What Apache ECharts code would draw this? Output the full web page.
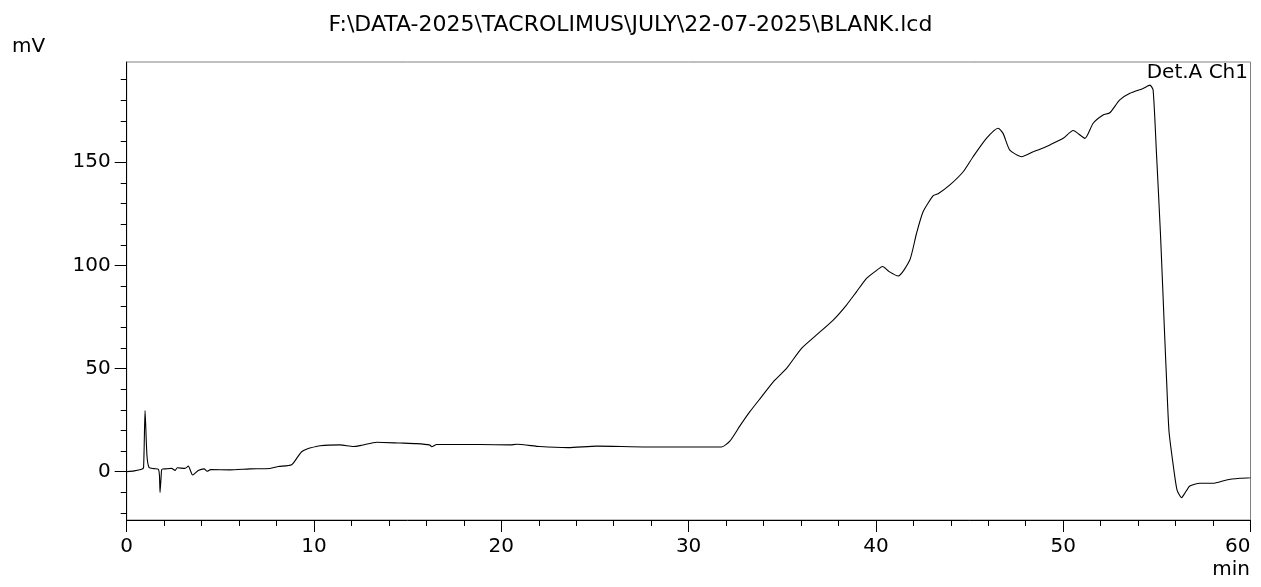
<!DOCTYPE html>
<html>
<head>
<meta charset="utf-8">
<script src="https://cdn.jsdelivr.net/npm/echarts@6/dist/echarts.min.js"></script>
<style>
html,body{margin:0;padding:0;background:#fff;}
#chart{width:1261px;height:587px;}
</style>
</head>
<body>
<div id="chart"></div>
<script>
var titleText = 'F:\\DATA-2025\\TACROLIMUS\\JULY\\22-07-2025\\BLANK.lcd';
var channelLabel = 'Det.A Ch1';
var yUnit = 'mV';
var xUnit = 'min';
var yMajorTicks = [0, 50, 100, 150];
var yMinorTicks = [-20, -10, 0, 10, 20, 30, 40, 50, 60, 70, 80, 90, 100, 110, 120, 130, 140, 150, 160, 170, 180, 190];

var timeMin = [0.00,0.40,0.80,0.90,0.98,1.08,1.19,1.45,1.69,1.75,1.78,1.84,1.88,2.10,2.40,2.58,2.70,3.11,3.29,3.52,3.82,4.13,4.30,4.48,5.51,6.58,7.65,8.10,8.81,9.16,9.34,9.60,9.78,10.32,11.39,12.10,12.54,13.35,14.59,15.48,16.19,16.28,16.55,18.86,20.46,20.82,22.06,23.57,25.09,27.76,29.54,31.76,32.20,32.74,33.27,33.90,34.52,35.23,36.03,36.83,37.72,38.43,38.97,39.50,39.95,40.36,40.71,41.19,41.81,42.17,42.52,43.06,43.32,43.95,44.66,45.19,45.90,46.53,46.79,47.15,47.78,48.40,48.76,49.29,50.00,50.53,51.16,51.60,52.13,52.49,53.02,53.56,54.27,54.63,54.80,54.98,55.20,55.42,55.52,55.65,55.91,56.08,56.32,56.49,56.76,57.29,58.00,58.72,59.43,60.00];
var signalMv = [0.0,0.4,1.2,2.0,29.6,8.0,2.1,1.5,1.2,-2.0,-10.0,-2.0,1.2,1.4,1.6,0.6,1.9,1.6,2.7,-1.6,0.6,1.4,0.2,1.0,0.9,1.4,1.6,2.5,3.4,7.6,9.7,10.9,11.5,12.6,13.0,12.2,12.8,14.3,13.9,13.6,12.9,12.1,13.2,13.2,13.0,13.3,12.2,11.7,12.4,12.0,12.0,12.0,14.8,22.2,29.1,36.4,43.6,50.1,59.8,66.3,73.5,80.8,87.3,93.7,97.0,99.5,97.0,94.9,102.6,115.6,126.0,133.8,134.7,139.0,145.4,152.7,161.6,166.5,164.0,155.9,152.7,155.1,156.3,158.4,161.6,165.4,161.6,168.9,172.9,174.0,180.2,183.4,185.8,187.4,185.0,154.3,113.9,65.4,44.4,19.5,0.8,-8.9,-12.6,-10.5,-6.9,-5.6,-5.6,-4.0,-3.2,-2.9];

var seriesData = timeMin.map(function (t, i) { return [t, signalMv[i]]; });

var FONT = '"DejaVu Sans", "Liberation Sans", Arial, sans-serif';
var chart = echarts.init(document.getElementById('chart'), null, {renderer: 'canvas'});
var yMin = -23.4, yMax = 198.6;

var option = {
  backgroundColor: '#ffffff',
  animation: false,
  title: {
    text: titleText,
    left: 'center',
    top: 9,
    textStyle: {fontFamily: FONT, fontSize: 22, fontWeight: 'normal', color: '#000'}
  },
  grid: {
    left: 126.7, right: 10.5, top: 62, bottom: 67,
    show: true, borderColor: '#808080', borderWidth: 1, backgroundColor: 'transparent'
  },
  xAxis: {
    type: 'value', min: 0, max: 60, interval: 10,
    axisLine: {show: true, onZero: false, lineStyle: {color: '#000', width: 1}},
    axisTick: {show: true, inside: false, length: 12, lineStyle: {color: '#000'}},
    minorTick: {show: true, splitNumber: 5, length: 6, lineStyle: {color: '#000'}},
    axisLabel: {fontFamily: FONT, fontSize: 20, color: '#000', margin: 17, alignMaxLabel: 'right'},
    splitLine: {show: false}
  },
  yAxis: [
    {
      type: 'value', min: yMin, max: yMax, position: 'left',
      axisLine: {show: true, onZero: false, lineStyle: {color: '#000', width: 1}},
      axisTick: {show: true, inside: false, length: 12, customValues: yMajorTicks, lineStyle: {color: '#000'}},
      axisLabel: {fontFamily: FONT, fontSize: 20, color: '#000', margin: 16, customValues: yMajorTicks},
      splitLine: {show: false}
    },
    {
      type: 'value', min: yMin, max: yMax, position: 'left', offset: 0,
      axisLine: {show: false},
      axisTick: {show: true, inside: false, length: 6, customValues: yMinorTicks, lineStyle: {color: '#000'}},
      axisLabel: {show: false},
      splitLine: {show: false}
    }
  ],
  series: [{
    type: 'line',
    xAxisIndex: 0,
    yAxisIndex: 0,
    data: seriesData,
    showSymbol: false,
    smooth: 0.2,
    lineStyle: {color: '#000', width: 1.1},
    clip: true
  }],
  graphic: [
    {type: 'text', left: 12, top: 37, style: {text: yUnit, font: '20px ' + FONT, fill: '#000'}},
    {type: 'text', right: 11, top: 560, style: {text: xUnit, font: '20px ' + FONT, fill: '#000'}},
    {type: 'text', right: 13, top: 63, style: {text: channelLabel, font: '20px ' + FONT, fill: '#000'}}
  ]
};
chart.setOption(option);
</script>
</body>
</html>
